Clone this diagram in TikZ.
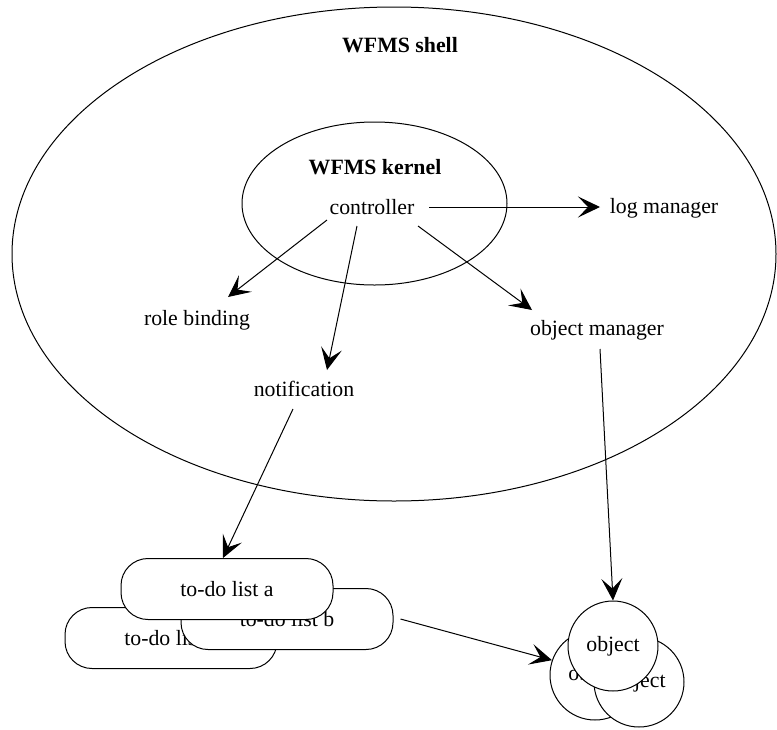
\documentclass[tikz,border=0pt]{standalone}
\usepackage{fontspec}
\setmainfont{Liberation Serif}
\usetikzlibrary{arrows.meta,shapes.geometric}
\begin{document}
\begin{tikzpicture}[x=0.5pt,y=-0.5pt,
  every node/.style={font=\fontsize{10.9}{13}\selectfont},
  lbl/.style={inner sep=0pt},
  hd/.style={inner sep=0pt,font=\fontsize{10.9}{13}\selectfont\bfseries},
  ring/.style={draw,ellipse,line width=0.5pt,inner sep=0pt,outer sep=0pt},
  arr/.style={-{Stealth[length=11pt,width=10.5pt,inset=5pt]},line width=0.5pt},
  todo/.style={draw,fill=white,line width=0.5pt,rounded corners=13.5pt,minimum width=106pt,minimum height=30.5pt,inner sep=0pt},
  obj/.style={draw,fill=white,circle,line width=0.5pt,minimum size=45pt,inner sep=0pt}
]
\useasboundingbox (0,0) rectangle (777,729);

% containers
\node[ring,minimum width=382pt,minimum height=247pt] (shell) at (394,254) {};
\node[ring,minimum width=132.5pt,minimum height=81.5pt] (kernel) at (374.5,203.5) {};
\node[hd] (shelllbl) at (400,45) {WFMS shell};
\node[hd] (kernellbl) at (375,167) {WFMS kernel};

% text nodes
\node[lbl] (controller) at (372,207) {controller};
\node[lbl] (log) at (664,208) {log manager};
\node[lbl] (role) at (197,320) {role binding};
\node[lbl] (notif) at (304,389) {notification};
\node[lbl] (objmgr) at (597,330) {object manager};

% to-do lists
\node[todo] (todoc) at (171,638) {to-do list c};
\node[todo] (todob) at (287,619) {to-do list b};
\node[todo] (todoa) at (227,589) {to-do list a};

% objects
\node[obj] (objll) at (595,675) {object};
\node[obj] (objlr) at (639,682) {object};
\node[obj] (objtop) at (613,646) {object};

% connectors
\draw[arr] ([shift={(57,0)}]controller.center) -- ([shift={(-64,0)}]log.center |- controller.center);
\draw[arr] ([shift={(-45,13)}]controller.center) -- ([shift={(31,-23)}]role.center);
\draw[arr] ([shift={(-15,19)}]controller.center) -- ([shift={(23,-19)}]notif.center);
\draw[arr] ([shift={(46,19)}]controller.center) -- ([shift={(-65,-20)}]objmgr.center);
\draw[arr] ([shift={(-11,20)}]notif.center) -- ([shift={(-4,0)}]todoa.north);
\draw[arr] ([shift={(3,19)}]objmgr.center) -- (objtop.north);
\draw[arr] ([shift={(7,0)}]todob.east) -- (objll.161);
\end{tikzpicture}
\end{document}
